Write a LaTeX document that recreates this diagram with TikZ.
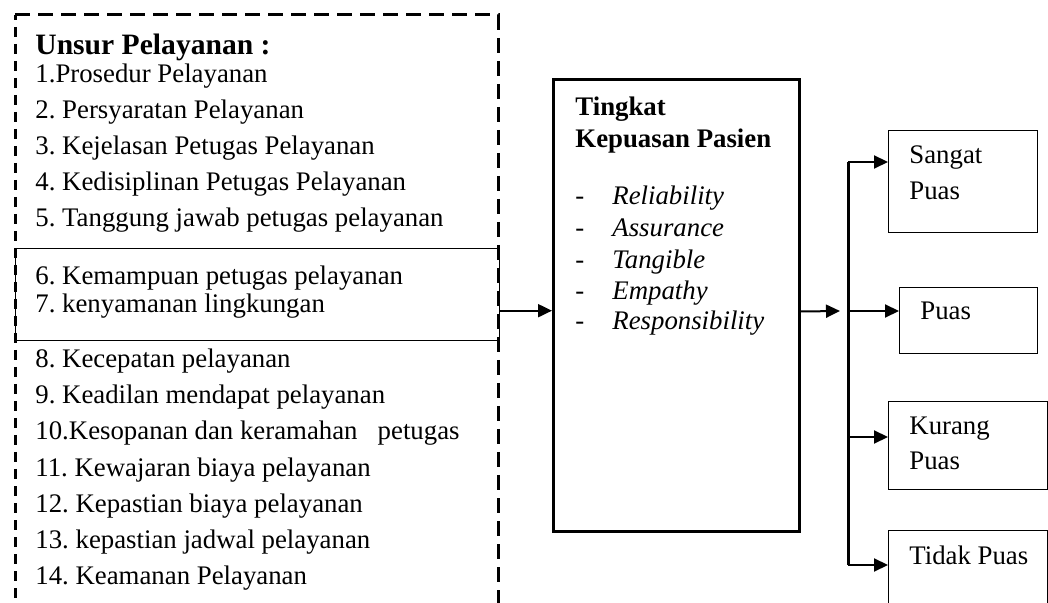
\documentclass[tikz,border=0pt]{standalone}
\usepackage{fontspec}
\setmainfont{Liberation Serif}
\usetikzlibrary{arrows.meta}
\frenchspacing
\begin{document}
\begin{tikzpicture}[x=0.5pt,y=-0.5pt,
  txt/.style={anchor=base west, inner sep=0pt, font=\fontsize{13.4}{15}\selectfont},
  head/.style={txt, font=\fontsize{14.8}{17}\selectfont\bfseries},
  thinbox/.style={draw, line width=0.7pt, anchor=north west, inner sep=0pt},
  thickbox/.style={draw, line width=1.5pt, anchor=north west, inner sep=0pt},
  dashbox/.style={line width=1.5pt, dash pattern=on 7.5pt off 4pt},
  dashside/.style={line width=1.5pt, dash pattern=on 5pt off 3.5pt, dash phase=-6pt},
  arr/.style={line width=1pt, -{Triangle[length=7pt,width=6.5pt]}},
  bus/.style={line width=1.5pt}]
\useasboundingbox (0,0) rectangle (1048,603);

% service elements frame (runs past the lower edge)
\draw[dashbox] (15,15) -- (498,15) -- (498,640);
\draw[dashside] (15,15) -- (15,640);

\node[head] (title) at (35,55) {Unsur Pelayanan :};
\node[txt] (u1) at (35,83) {1.Prosedur Pelayanan};
\node[txt] (u2) at (35,119) {2. Persyaratan Pelayanan};
\node[txt] (u3) at (35,155) {3. Kejelasan Petugas Pelayanan};
\node[txt] (u4) at (35,191) {4. Kedisiplinan Petugas Pelayanan};
\node[txt] (u5) at (35,227) {5. Tanggung jawab petugas pelayanan};

% highlighted items 6 and 7
\node[thinbox, minimum width=242pt, minimum height=46pt] (box67) at (15,248) {};
\node[txt] (u6) at (35,285) {6. Kemampuan petugas pelayanan};
\node[txt] (u7) at (35,313) {7. kenyamanan lingkungan};

\node[txt] (u8) at (35,368) {8. Kecepatan pelayanan};
\node[txt] (u9) at (35,404) {9. Keadilan mendapat pelayanan};
\node[txt] (u10) at (35,440) {10.Kesopanan dan keramahan \ \ petugas};
\node[txt] (u11) at (35,476) {11. Kewajaran biaya pelayanan};
\node[txt] (u12) at (35,512) {12. Kepastian biaya pelayanan};
\node[txt] (u13) at (35,548) {13. kepastian jadwal pelayanan};
\node[txt] (u14) at (35,584) {14. Keamanan Pelayanan};

% satisfaction level box
\node[thickbox, minimum width=123pt, minimum height=226pt] (center) at (552,78) {};
\node[txt, font=\fontsize{13.4}{15}\selectfont\bfseries] (t1) at (575,116) {Tingkat};
\node[txt, font=\fontsize{13.4}{15}\selectfont\bfseries] (t2) at (575,148) {Kepuasan Pasien};
\foreach \y/\w [count=\i] in {205/Reliability, 237/Assurance, 269/Tangible, 300/Empathy, 330/Responsibility}{
  \node[txt] (d\i) at (575,\y) {-};
  \node[txt, font=\fontsize{13.4}{15}\selectfont\itshape] (s\i) at (612,\y) {\w};
}

% outcome boxes
\node[thinbox, minimum width=74.5pt, minimum height=51pt] (sangat) at (888,130) {};
\node[txt] (sangat1) at (909,164) {Sangat};
\node[txt] (sangat2) at (909,200) {Puas};
\node[thinbox, minimum width=69pt, minimum height=33pt] (puas) at (899,287) {};
\node[txt] (puas1) at (920,320) {Puas};
\node[thinbox, minimum width=79.5pt, minimum height=44pt] (kurang) at (888,401) {};
\node[txt] (kurang1) at (909,435) {Kurang};
\node[txt] (kurang2) at (909,469) {Puas};
\node[thinbox, minimum width=79.5pt, minimum height=50pt] (tidak) at (888,530) {};
\node[txt] (tidak1) at (909,564) {Tidak Puas};

% connectors
\draw[arr] ([yshift=-8pt]box67.east) -- ([yshift=-8pt]box67.east -| center.west);
\coordinate (out) at ([yshift=-3pt]center.east);
\coordinate (gap) at (840,311);
\draw[arr] (out) -- (gap);
\coordinate (b1) at (848,162);
\coordinate (b2) at (848,311);
\coordinate (b3) at (848,437);
\coordinate (b4) at (848,565);
\draw[bus] (b1) -- (b4);
\draw[arr] (b1) -- (b1 -| sangat.west);
\draw[arr] (b2) -- (b2 -| puas.west);
\draw[arr] (b3) -- (b3 -| kurang.west);
\draw[arr] (b4) -- (b4 -| tidak.west);
\end{tikzpicture}
\end{document}
